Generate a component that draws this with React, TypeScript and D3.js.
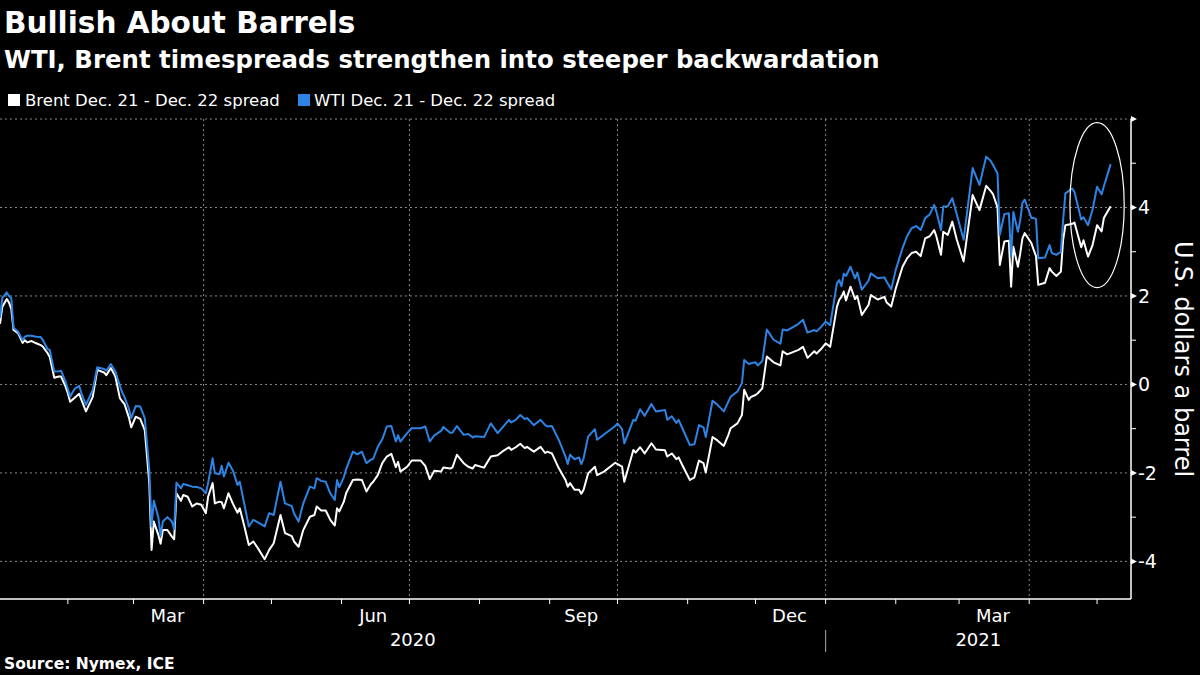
import React from "react";
import * as d3 from "d3";

const dates: string[] = [
  "2020-01-02","2020-01-03","2020-01-05","2020-01-06","2020-01-07","2020-01-08","2020-01-10","2020-01-12","2020-01-13","2020-01-14",
  "2020-01-16","2020-01-18","2020-01-20","2020-01-21","2020-01-23","2020-01-24","2020-01-26","2020-01-28","2020-01-29","2020-01-31",
  "2020-02-01","2020-02-02","2020-02-04","2020-02-06","2020-02-07","2020-02-09","2020-02-12","2020-02-14","2020-02-17","2020-02-18",
  "2020-02-20","2020-02-22","2020-02-24","2020-02-25","2020-02-26","2020-02-28","2020-02-29","2020-03-02","2020-03-04","2020-03-06",
  "2020-03-08","2020-03-09","2020-03-10","2020-03-12","2020-03-13","2020-03-14","2020-03-16","2020-03-18","2020-03-19","2020-03-20",
  "2020-03-22","2020-03-23","2020-03-25","2020-03-27","2020-03-29","2020-03-31","2020-04-02","2020-04-03","2020-04-05","2020-04-06",
  "2020-04-08","2020-04-09","2020-04-10","2020-04-12","2020-04-14","2020-04-16","2020-04-17","2020-04-19","2020-04-21","2020-04-23",
  "2020-04-25","2020-04-28","2020-04-30","2020-05-02","2020-05-05","2020-05-07","2020-05-10","2020-05-11","2020-05-13","2020-05-15",
  "2020-05-18","2020-05-20","2020-05-21","2020-05-23","2020-05-25","2020-05-27","2020-05-29","2020-05-30","2020-05-31","2020-06-02",
  "2020-06-03","2020-06-06","2020-06-08","2020-06-10","2020-06-12","2020-06-14","2020-06-15","2020-06-17","2020-06-19","2020-06-21",
  "2020-06-23","2020-06-25","2020-06-26","2020-06-27","2020-06-30","2020-07-02","2020-07-06","2020-07-08","2020-07-10","2020-07-12",
  "2020-07-15","2020-07-16","2020-07-19","2020-07-20","2020-07-22","2020-07-25","2020-07-27","2020-07-29","2020-07-30","2020-08-03",
  "2020-08-06","2020-08-09","2020-08-11","2020-08-14","2020-08-15","2020-08-17","2020-08-19","2020-08-21","2020-08-22","2020-08-25",
  "2020-08-28","2020-08-30","2020-08-31","2020-09-02","2020-09-05","2020-09-08","2020-09-09","2020-09-10","2020-09-12","2020-09-14",
  "2020-09-15","2020-09-16","2020-09-18","2020-09-21","2020-09-22","2020-09-25","2020-09-30","2020-10-01","2020-10-03","2020-10-04",
  "2020-10-08","2020-10-09","2020-10-11","2020-10-13","2020-10-16","2020-10-18","2020-10-22","2020-10-23","2020-10-25","2020-10-27",
  "2020-10-28","2020-10-30","2020-11-02","2020-11-04","2020-11-06","2020-11-08","2020-11-09","2020-11-12","2020-11-14","2020-11-17",
  "2020-11-19","2020-11-20","2020-11-23","2020-11-25","2020-11-26","2020-11-28","2020-11-29","2020-12-01","2020-12-02","2020-12-04",
  "2020-12-06","2020-12-09","2020-12-12","2020-12-13","2020-12-15","2020-12-17","2020-12-20","2020-12-22","2020-12-24","2020-12-27",
  "2020-12-28","2020-12-30","2021-01-01","2021-01-03","2021-01-06","2021-01-07","2021-01-08","2021-01-09","2021-01-10","2021-01-12",
  "2021-01-14","2021-01-15","2021-01-17","2021-01-20","2021-01-21","2021-01-24","2021-01-27","2021-01-28","2021-01-30","2021-02-01",
  "2021-02-04","2021-02-06","2021-02-08","2021-02-10","2021-02-12","2021-02-14","2021-02-16","2021-02-18","2021-02-19","2021-02-21",
  "2021-02-22","2021-02-24","2021-02-26","2021-02-28","2021-03-03","2021-03-07","2021-03-10","2021-03-13","2021-03-15","2021-03-16",
  "2021-03-18","2021-03-19","2021-03-21","2021-03-23","2021-03-24","2021-03-25","2021-03-27","2021-03-28","2021-03-29","2021-03-30",
  "2021-04-02","2021-04-03","2021-04-04","2021-04-05","2021-04-08","2021-04-10","2021-04-11","2021-04-13","2021-04-15","2021-04-16",
  "2021-04-17","2021-04-20","2021-04-21","2021-04-24","2021-04-25","2021-04-27","2021-04-29","2021-05-01","2021-05-03","2021-05-04",
  "2021-05-07",
];

const brent: number[] = [
  1.37,1.75,1.93,1.85,1.70,1.23,1.16,0.94,1.00,0.95,
  0.98,0.93,0.89,0.85,0.71,0.62,0.15,0.18,0.18,-0.05,
  -0.20,-0.39,-0.30,-0.21,-0.35,-0.61,-0.28,0.33,0.27,0.21,
  0.37,0.18,-0.31,-0.38,-0.44,-0.75,-0.97,-0.73,-0.78,-1.03,
  -2.23,-3.74,-3.10,-3.40,-3.60,-3.29,-3.29,-3.44,-3.50,-2.46,
  -2.63,-2.50,-2.54,-2.76,-2.69,-2.72,-2.91,-2.54,-2.23,-2.69,
  -2.65,-2.66,-2.80,-2.46,-2.70,-2.90,-2.80,-3.20,-3.63,-3.55,
  -3.70,-3.95,-3.74,-3.59,-2.95,-3.36,-3.43,-3.55,-3.67,-3.30,
  -2.99,-2.95,-2.76,-2.85,-2.85,-3.06,-3.19,-2.80,-2.87,-2.65,
  -2.46,-2.16,-2.15,-2.16,-2.42,-2.25,-2.20,-2.05,-1.78,-1.63,
  -1.57,-1.87,-1.75,-1.97,-1.86,-1.72,-1.72,-1.84,-2.14,-1.95,
  -1.97,-1.88,-1.90,-1.88,-1.59,-1.78,-1.86,-1.90,-1.82,-1.88,
  -1.63,-1.60,-1.52,-1.42,-1.48,-1.42,-1.34,-1.44,-1.41,-1.52,
  -1.41,-1.55,-1.52,-1.56,-1.89,-2.16,-2.31,-2.23,-2.38,-2.38,
  -2.47,-2.38,-2.01,-1.86,-2.05,-1.97,-1.77,-1.80,-1.86,-2.20,
  -1.48,-1.54,-1.42,-1.56,-1.33,-1.47,-1.49,-1.63,-1.56,-1.69,
  -1.65,-1.86,-2.16,-2.10,-1.72,-1.78,-1.99,-1.19,-1.26,-1.39,
  -1.14,-0.99,-0.88,-0.69,-0.12,-0.35,-0.28,-0.24,-0.20,-0.09,
  0.63,0.50,0.43,0.75,0.68,0.72,0.78,0.85,0.60,0.75,
  0.70,0.80,0.93,0.85,1.76,1.91,1.98,2.10,1.90,2.21,
  1.93,2.00,1.57,1.80,2.02,1.92,1.98,1.85,1.76,2.17,
  2.66,2.85,2.97,3.00,2.90,3.30,3.35,3.49,3.34,2.93,
  3.45,3.38,3.68,3.27,2.78,4.28,3.94,4.49,4.37,4.30,
  4.00,2.70,3.23,3.25,2.21,3.11,2.66,2.95,3.30,3.42,
  3.19,3.04,2.90,2.25,2.30,2.63,2.55,2.45,2.55,3.27,
  3.60,3.63,3.66,3.10,3.26,2.89,3.15,3.60,3.46,3.76,
  4.03,
];

const wti: number[] = [
  1.50,1.95,2.08,2.00,1.95,1.28,1.19,1.00,1.08,1.10,
  1.10,1.08,1.07,1.00,0.80,0.78,0.29,0.30,0.31,0.06,
  -0.10,-0.28,-0.10,-0.03,-0.20,-0.46,-0.12,0.39,0.35,0.31,
  0.46,0.29,-0.03,-0.18,-0.28,-0.55,-0.76,-0.49,-0.50,-0.76,
  -1.93,-3.21,-2.63,-3.00,-3.42,-3.10,-3.00,-3.10,-3.27,-2.22,
  -2.35,-2.25,-2.28,-2.31,-2.32,-2.35,-2.46,-2.23,-1.67,-2.01,
  -2.03,-1.84,-2.08,-1.77,-1.95,-2.27,-2.20,-2.70,-3.21,-3.06,
  -3.12,-3.21,-2.91,-2.95,-2.20,-2.69,-2.75,-2.92,-3.10,-2.70,
  -2.31,-2.35,-2.12,-2.18,-2.20,-2.46,-2.61,-2.16,-2.32,-2.10,
  -1.92,-1.52,-1.58,-1.52,-1.78,-1.70,-1.68,-1.41,-1.24,-0.95,
  -0.94,-1.29,-1.15,-1.29,-1.10,-0.99,-0.99,-0.95,-1.29,-1.15,
  -1.05,-0.96,-1.09,-1.09,-0.94,-1.14,-1.12,-1.20,-1.17,-1.19,
  -0.88,-1.10,-0.98,-0.80,-0.86,-0.80,-0.69,-0.78,-0.76,-0.92,
  -0.80,-0.92,-0.95,-0.94,-1.25,-1.63,-1.80,-1.59,-1.69,-1.65,
  -1.80,-1.67,-1.18,-1.01,-1.25,-1.13,-0.94,-0.88,-1.01,-1.33,
  -0.80,-0.82,-0.56,-0.71,-0.44,-0.61,-0.58,-0.80,-0.72,-0.87,
  -0.80,-1.03,-1.37,-1.35,-0.92,-0.97,-1.19,-0.37,-0.45,-0.61,
  -0.39,-0.28,-0.16,0.03,0.55,0.46,0.48,0.50,0.43,0.53,
  1.24,1.01,0.92,1.24,1.22,1.28,1.37,1.46,1.17,1.23,
  1.20,1.30,1.42,1.34,2.29,2.36,2.22,2.50,2.45,2.66,
  2.40,2.53,2.14,2.35,2.51,2.40,2.42,2.32,2.15,2.59,
  3.08,3.35,3.53,3.58,3.49,3.76,3.84,4.06,3.90,3.49,
  4.02,4.03,4.21,3.84,3.27,4.89,4.51,5.15,5.05,4.96,
  4.77,3.38,3.85,3.87,2.90,3.90,3.45,3.70,4.10,4.18,
  3.76,3.76,3.74,2.85,2.87,3.15,2.97,2.93,3.00,3.72,
  4.32,4.43,4.35,3.73,3.78,3.60,3.95,4.47,4.30,4.48,
  4.98,
];

const seriesNames = ["Brent Dec. 21 - Dec. 22 spread", "WTI Dec. 21 - Dec. 22 spread"];
const seriesColors = ["#ffffff", "#2d84e5"];
const yTicks = [-4, -2, 0, 2, 4, 6];
const yMinorTicks = [-3, -1, 1, 3, 5];
const quarterLabels = [
  { label: "Mar", date: "2020-03-16" },
  { label: "Jun", date: "2020-06-15" },
  { label: "Sep", date: "2020-09-15" },
  { label: "Dec", date: "2020-12-16" },
  { label: "Mar", date: "2021-03-16" },
];
const gridDates = ["2020-04-01", "2020-07-01", "2020-10-01", "2021-01-01", "2021-04-01"];
const yearLabels = ["2020", "2021"];
const xDomain = ["2020-01-02", "2021-05-16"];
const yDomain = [-4.85, 6.0];
const ellipseBox = { from: "2021-04-19", to: "2021-05-13", low: 2.19, high: 5.92 };

const FONT = "'DejaVu Sans', sans-serif";

export default function App() {
  const W = 1200, H = 675;
  const left = 0, right = 1131, top = 119, bottom = 599;
  const parse = d3.utcParse("%Y-%m-%d");
  const x = d3.scaleUtc().domain(xDomain.map((d) => parse(d)!)).range([left, right]);
  const y = d3.scaleLinear().domain(yDomain).range([bottom, top]);
  const pts = dates.map((d) => parse(d)!);

  const line = d3
    .line<number>()
    .x((_, i) => x(pts[i]))
    .y((v) => y(v))
    .curve(d3.curveLinear);

  const months = d3.utcMonth.range(parse(xDomain[0])!, parse(xDomain[1])!);
  const yearBoundary = parse("2021-01-01")!;

  const ex0 = x(parse(ellipseBox.from)!), ex1 = x(parse(ellipseBox.to)!);
  const ey0 = y(ellipseBox.high), ey1 = y(ellipseBox.low);

  return (
    <svg
      width={W}
      height={H}
      style={{ position: "absolute", left: 0, top: 0, background: "#000" }}
      fontFamily={FONT}
    >
      <rect width={W} height={H} fill="#000" />
      <text x={4} y={33} fill="#fff" fontSize={29.5} fontWeight="bold">Bullish About Barrels</text>
      <text x={4} y={68} fill="#fff" fontSize={24.4} fontWeight="bold">
        WTI, Brent timespreads strengthen into steeper backwardation
      </text>

      {/* legend */}
      <rect x={8} y={94} width={12} height={12} fill={seriesColors[0]} />
      <text x={25} y={106} fill="#fff" fontSize={16.5}>{seriesNames[0]}</text>
      <rect x={298} y={94} width={12} height={12} fill={seriesColors[1]} />
      <text x={314} y={106} fill="#fff" fontSize={16.5}>{seriesNames[1]}</text>

      {/* horizontal gridlines */}
      {yTicks.map((t) => (
        <line key={"h" + t} x1={left} x2={right} y1={y(t)} y2={y(t)} stroke="#8a8a8a" strokeWidth={1} strokeDasharray="2,3" />
      ))}
      {/* vertical gridlines */}
      {gridDates.map((d) => (
        <line key={"v" + d} x1={x(parse(d)!)} x2={x(parse(d)!)} y1={top} y2={bottom} stroke="#8a8a8a" strokeWidth={1} strokeDasharray="2,3" />
      ))}

      {/* series */}
      <path d={line(brent) || ""} fill="none" stroke={seriesColors[0]} strokeWidth={2} strokeLinejoin="round" />
      <path d={line(wti) || ""} fill="none" stroke={seriesColors[1]} strokeWidth={2} strokeLinejoin="round" />

      {/* annotation ellipse */}
      <ellipse cx={(ex0 + ex1) / 2} cy={(ey0 + ey1) / 2} rx={(ex1 - ex0) / 2} ry={(ey1 - ey0) / 2} fill="none" stroke="#fff" strokeWidth={1.2} />

      {/* right axis */}
      <line x1={right} x2={right} y1={top} y2={bottom} stroke="#fff" strokeWidth={1.5} />
      {yTicks.map((t) => (
        <g key={"yt" + t}>
          <path d={`M${right},${y(t) - 3}L${right + 6},${y(t)}L${right},${y(t) + 3}Z`} fill="#fff" />
          {t !== 6 && (
            <text x={right + 7} y={y(t)} dy="0.35em" fill="#fff" fontSize={19}>
              {t < 0 ? "-" + Math.abs(t) : String(t)}
            </text>
          )}
        </g>
      ))}
      {yMinorTicks.map((t) => (
        <line key={"ym" + t} x1={right} x2={right + 5} y1={y(t)} y2={y(t)} stroke="#fff" strokeWidth={1} />
      ))}
      <text
        transform={`translate(1183, ${(top + bottom) / 2}) rotate(90)`}
        textAnchor="middle"
        dominantBaseline="central"
        fill="#fff"
        fontSize={24}
      >
        U.S. dollars a barrel
      </text>

      {/* bottom axis */}
      <line x1={left} x2={right} y1={bottom} y2={bottom} stroke="#fff" strokeWidth={1.5} />
      {months.map((m) => (
        <line key={"mt" + m.toISOString()} x1={x(m)} x2={x(m)} y1={bottom} y2={bottom + 5} stroke="#fff" strokeWidth={1} />
      ))}
      {quarterLabels.map((q, i) => (
        <text key={"ql" + i} x={x(parse(q.date)!)} y={622} textAnchor="middle" fill="#fff" fontSize={18}>
          {q.label}
        </text>
      ))}
      <text x={(left + x(yearBoundary)) / 2} y={646} textAnchor="middle" fill="#fff" fontSize={18}>{yearLabels[0]}</text>
      <text x={(x(yearBoundary) + right) / 2} y={646} textAnchor="middle" fill="#fff" fontSize={18}>{yearLabels[1]}</text>
      <line x1={x(yearBoundary)} x2={x(yearBoundary)} y1={630} y2={652} stroke="#aaa" strokeWidth={1} />

      <text x={4} y={669} fill="#fff" fontSize={15.5} fontWeight="bold">Source: Nymex, ICE</text>
    </svg>
  );
}
